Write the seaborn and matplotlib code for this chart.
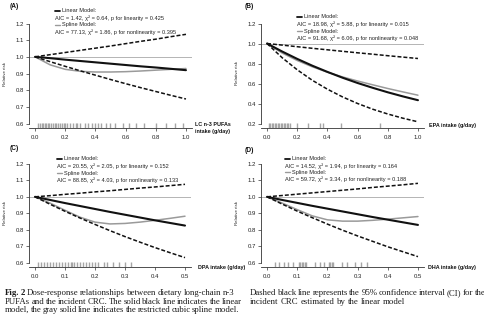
import matplotlib
matplotlib.use("Agg")
import matplotlib.pyplot as plt
from matplotlib.lines import Line2D
import pandas as pd
import seaborn as sns

sns.set_style("ticks")
plt.rcParams["font.family"] = ["Liberation Sans", "DejaVu Sans"]

W, H = 485, 322

# ---- dose grids (g/day) ----
dose_full = [0.0, 0.1, 0.2, 0.3, 0.4, 0.5, 0.6, 0.7, 0.8, 0.9, 1.0]
dose_half = [0.0, 0.05, 0.1, 0.15, 0.2, 0.25, 0.3, 0.35, 0.4, 0.45, 0.5]

# ---- (A) total LC n-3 PUFAs ----
lin_a = [1.000, 0.992, 0.983, 0.975, 0.967, 0.959, 0.951, 0.943, 0.936, 0.928, 0.920]
hi_a = [1.000, 1.013, 1.026, 1.039, 1.052, 1.065, 1.079, 1.093, 1.106, 1.121, 1.135]
lo_a = [1.000, 0.971, 0.943, 0.916, 0.890, 0.864, 0.839, 0.815, 0.792, 0.769, 0.747]
spl_a = [1.000, 0.952, 0.925, 0.913, 0.909, 0.909, 0.911, 0.915, 0.920, 0.925, 0.930]
rug_a = [0.02, 0.03, 0.045, 0.055, 0.065, 0.075, 0.085, 0.095, 0.105, 0.12, 0.13,
         0.14, 0.15, 0.165, 0.18, 0.19, 0.2, 0.215, 0.23, 0.25, 0.27, 0.28, 0.3,
         0.33, 0.35, 0.38, 0.4, 0.42, 0.44, 0.47, 0.5, 0.53, 0.58, 0.62, 0.67,
         0.72, 0.8, 0.87, 0.93, 0.98]

# ---- (B) EPA ----
lin_b = [1.000, 0.920, 0.846, 0.778, 0.716, 0.658, 0.605, 0.557, 0.512, 0.471, 0.433]
hi_b = [1.000, 0.984, 0.968, 0.952, 0.937, 0.922, 0.907, 0.893, 0.878, 0.864, 0.850]
lo_b = [1.000, 0.858, 0.737, 0.632, 0.543, 0.466, 0.400, 0.343, 0.295, 0.253, 0.217]
spl_b = [1.000, 0.905, 0.830, 0.767, 0.713, 0.666, 0.625, 0.587, 0.550, 0.516, 0.483]
rug_b = [0.01, 0.02, 0.03, 0.04, 0.05, 0.06, 0.07, 0.08, 0.09, 0.10, 0.11, 0.12,
         0.13, 0.14, 0.155, 0.2, 0.27, 0.35, 0.37, 0.49, 0.75]

# ---- (C) DPA ----
lin_c = [1.000, 0.981, 0.962, 0.944, 0.926, 0.908, 0.891, 0.874, 0.857, 0.841, 0.825]
hi_c = [1.000, 1.007, 1.015, 1.022, 1.030, 1.037, 1.045, 1.053, 1.060, 1.068, 1.076]
lo_c = [1.000, 0.955, 0.912, 0.871, 0.832, 0.794, 0.758, 0.724, 0.691, 0.660, 0.630]
spl_c = [1.000, 0.962, 0.918, 0.876, 0.846, 0.835, 0.838, 0.846, 0.857, 0.869, 0.882]
rug_c = [0.01, 0.02, 0.03, 0.04, 0.05, 0.06, 0.07, 0.08, 0.09, 0.1, 0.11, 0.12,
         0.125, 0.13, 0.14, 0.15, 0.16, 0.17, 0.18, 0.19, 0.2, 0.21, 0.23, 0.24,
         0.26, 0.28, 0.3, 0.32]

# ---- (D) DHA ----
lin_d = [1.000, 0.981, 0.963, 0.945, 0.928, 0.911, 0.894, 0.877, 0.861, 0.845, 0.829]
hi_d = [1.000, 1.008, 1.016, 1.024, 1.032, 1.040, 1.048, 1.057, 1.065, 1.073, 1.082]
lo_d = [1.000, 0.956, 0.913, 0.873, 0.834, 0.797, 0.762, 0.729, 0.696, 0.666, 0.636]
spl_d = [1.000, 0.962, 0.922, 0.884, 0.860, 0.852, 0.852, 0.857, 0.864, 0.872, 0.880]
rug_d = [0.025, 0.04, 0.055, 0.07, 0.085, 0.105, 0.11, 0.115, 0.12, 0.125, 0.13,
         0.16, 0.175, 0.19, 0.205, 0.21, 0.215, 0.22, 0.25, 0.265, 0.29, 0.31, 0.33]

# ---- annotation text ----
panel_tags = ["(A)", "(B)", "(C)", "(D)"]
x_titles = ["LC n-3 PUFAs\nintake (g/day)", "EPA intake (g/day)",
            "DPA intake (g/day)", "DHA intake (g/day)"]
linear_stats = ["AIC = 1.42, \u03c7\u00b2 = 0.64, p for linearity = 0.425",
                "AIC = 18.98, \u03c7\u00b2 = 5.88, p for linearity = 0.015",
                "AIC = 20.55, \u03c7\u00b2 = 2.05, p for linearity = 0.152",
                "AIC = 14.52, \u03c7\u00b2 = 1.94, p for linearity = 0.164"]
spline_stats = ["AIC = 77.13, \u03c7\u00b2 = 1.86, p for nonlinearity = 0.395",
                "AIC = 91.68, \u03c7\u00b2 = 6.06, p for nonlinearity = 0.048",
                "AIC = 88.85, \u03c7\u00b2 = 4.03, p for nonlinearity = 0.133",
                "AIC = 59.72, \u03c7\u00b2 = 3.34, p for nonlinearity = 0.188"]
x_ticks_full = [0.0, 0.2, 0.4, 0.6, 0.8, 1.0]
x_ticks_half = [0.0, 0.1, 0.2, 0.3, 0.4, 0.5]
y_ticks_rr = [0.6, 0.7, 0.8, 0.9, 1.0, 1.1, 1.2]
y_ticks_epa = [0.2, 0.4, 0.6, 0.8, 1.0, 1.2]

caption_left = [
    "Fig. 2 Dose-response relationships between dietary long-chain n-3",
    "PUFAs and the incident CRC. The solid black line indicates the linear",
    "model, the gray solid line indicates the restricted cubic spline model.",
]
caption_right = [
    "Dashed black line represents the 95% confidence interval (CI) for the",
    "incident CRC estimated by the linear model",
]

fig = plt.figure(figsize=(W / 100, H / 100), dpi=100)
fig.patch.set_facecolor("white")


def fx(x):
    return x / W


def fy(y):
    return 1 - y / H


panels = [
    dict(dose=dose_full, lin=lin_a, hi=hi_a, lo=lo_a, spl=spl_a, rug=rug_a,
         xlim=(-0.04, 1.04), ylim=(0.576, 1.224), xt=x_ticks_full, yt=y_ticks_rr,
         box=(29, 19.5, 192, 127.5)),
    dict(dose=dose_full, lin=lin_b, hi=hi_b, lo=lo_b, spl=spl_b, rug=rug_b,
         xlim=(-0.04, 1.04), ylim=(0.16, 1.24), xt=x_ticks_full, yt=y_ticks_epa,
         box=(261, 19.5, 424, 127.5)),
    dict(dose=dose_half, lin=lin_c, hi=hi_c, lo=lo_c, spl=spl_c, rug=rug_c,
         xlim=(-0.02, 0.52), ylim=(0.576, 1.224), xt=x_ticks_half, yt=y_ticks_rr,
         box=(29, 160, 191, 266.5)),
    dict(dose=dose_half, lin=lin_d, hi=hi_d, lo=lo_d, spl=spl_d, rug=rug_d,
         xlim=(-0.02, 0.52), ylim=(0.576, 1.224), xt=x_ticks_half, yt=y_ticks_rr,
         box=(261, 160, 424, 266.5)),
]

# text placement in pixels: tag, legend block (x, first-line y, line step), x title, y label
tag_pos = [(10, 6), (245, 6), (10, 149), (245, 150)]
legend_pos = [(55, 11, 6.9), (297, 17, 7.0), (57, 159, 7.0), (285, 159, 6.7)]
xtitle_pos = [(195, 125), (429, 125), (198, 267.5), (428, 267.5)]
ylabel_pos = [(5, 74), (237, 73), (5, 213), (237, 213)]

LEG_FS = 4.1
DASH = (0, (2.6, 1.3))
for i, p in enumerate(panels):
    x0, y0, x1, y1 = p["box"]
    ax = fig.add_axes([fx(x0), fy(y1), fx(x1 - x0), (y1 - y0) / H])
    df = pd.DataFrame({"dose": p["dose"], "lin": p["lin"], "hi": p["hi"],
                       "lo": p["lo"], "spl": p["spl"]})
    ax.axhline(1.0, color="#b4b4b4", lw=0.7, zorder=1)
    sns.lineplot(data=df, x="dose", y="hi", ax=ax, color="#111111", lw=1.1,
                 linestyle=DASH, zorder=3)
    sns.lineplot(data=df, x="dose", y="lo", ax=ax, color="#111111", lw=1.1,
                 linestyle=DASH, zorder=3)
    sns.lineplot(data=df, x="dose", y="spl", ax=ax, color="#9a9a9a", lw=1.1, zorder=2)
    sns.lineplot(data=df, x="dose", y="lin", ax=ax, color="#111111", lw=1.5, zorder=4)
    sns.rugplot(x=p["rug"], ax=ax, height=0.04, color="#a6a6a6", lw=0.45,
                expand_margins=False)
    ax.set_xlim(*p["xlim"])
    ax.set_ylim(*p["ylim"])
    ax.set_xticks(p["xt"])
    ax.set_xticklabels([f"{v:.1f}" for v in p["xt"]])
    ax.set_yticks(p["yt"])
    ax.set_yticklabels([f"{v:.1f}" for v in p["yt"]])
    ax.set_xlabel("")
    ax.set_ylabel("")
    for s in ("top", "right"):
        ax.spines[s].set_visible(False)
    ax.spines["left"].set_bounds(p["yt"][0], p["yt"][-1])
    for s in ("left", "bottom"):
        ax.spines[s].set_color("#333333")
        ax.spines[s].set_linewidth(0.6)
    ax.tick_params(axis="both", labelsize=4.3, length=2, width=0.5,
                   color="#333333", labelcolor="#222222")
    ax.tick_params(axis="x", pad=3.2)
    ax.tick_params(axis="y", pad=1.5)
    ax.set_facecolor("white")

    # panel tag
    tx, ty = tag_pos[i]
    fig.text(fx(tx), fy(ty), panel_tags[i], fontsize=4.8, fontweight="bold",
             va="center", ha="left", color="#111111")
    # legend block
    lx, ly, step = legend_pos[i]
    fig.add_artist(Line2D([fx(lx), fx(lx + 5)], [fy(ly), fy(ly)], color="#111111",
                          lw=1.3, transform=fig.transFigure))
    fig.text(fx(lx + 7), fy(ly), "Linear Model:", fontsize=LEG_FS, va="center",
             ha="left", color="#222222")
    fig.text(fx(lx), fy(ly + step), linear_stats[i], fontsize=LEG_FS, va="center",
             ha="left", color="#222222")
    fig.add_artist(Line2D([fx(lx), fx(lx + 5)], [fy(ly + 2 * step)] * 2,
                          color="#9a9a9a", lw=1.0, transform=fig.transFigure))
    fig.text(fx(lx + 7), fy(ly + 2 * step), "Spline Model:", fontsize=LEG_FS,
             va="center", ha="left", color="#222222")
    fig.text(fx(lx), fy(ly + 3 * step), spline_stats[i], fontsize=LEG_FS,
             va="center", ha="left", color="#222222")
    # axis titles
    xx, xy = xtitle_pos[i]
    lines = x_titles[i].split("\n")
    for k, line in enumerate(lines):
        fig.text(fx(xx), fy(xy + 7 * k), line, fontsize=3.9, fontweight="bold",
                 va="center", ha="left", color="#111111")
    yx, yy = ylabel_pos[i]
    fig.text(fx(yx), fy(yy), "Relative risk", fontsize=3.2, rotation=90,
             va="center", ha="center", color="#222222")

# ---- caption, set as justified serif text ----
renderer = fig.canvas.get_renderer()
SERIF = ["Liberation Serif", "DejaVu Serif"]
CAP_FS = 6.3


def place_line(text, x_left, x_right, y, justify=True, bold_words=0):
    words = text.split(" ")
    arts, widths = [], []
    for k, w in enumerate(words):
        t = fig.text(0, 0, w, fontsize=CAP_FS, family=SERIF, va="center", ha="left",
                     color="#1a1a1a", fontweight="bold" if k < bold_words else "normal")
        arts.append(t)
        widths.append(t.get_window_extent(renderer).width)
    space = CAP_FS * 100 / 72 * 0.25
    if justify and len(words) > 1:
        gap = max((x_right - x_left - sum(widths)) / (len(words) - 1), space * 0.6)
    else:
        gap = space
    x = x_left
    for t, w in zip(arts, widths):
        t.set_position((fx(x), fy(y)))
        x += w + gap


cap_y = [293, 301.5, 310]
for k, line in enumerate(caption_left):
    place_line(line, 5, 234, cap_y[k], justify=True, bold_words=2 if k == 0 else 0)
for k, line in enumerate(caption_right):
    place_line(line, 250, 480, cap_y[k], justify=(k == 0))

fig.savefig("out.png", dpi=100, facecolor="white")
